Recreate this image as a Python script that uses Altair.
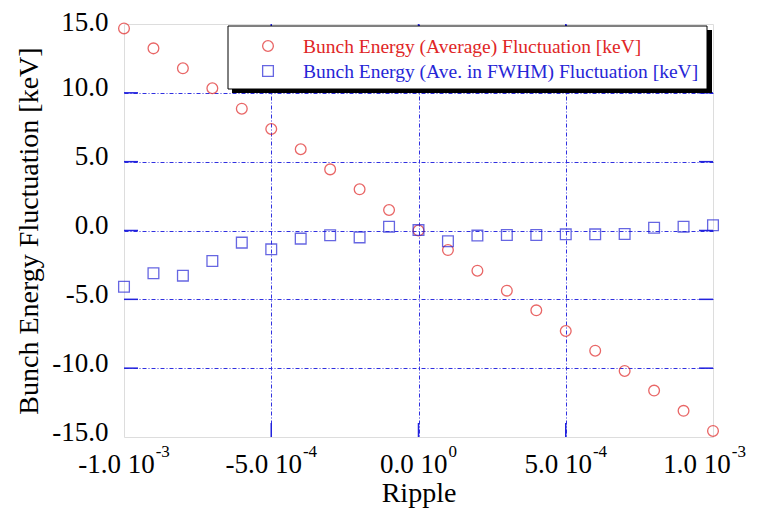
import altair as alt
import pandas as pd

# ---------------- data ----------------
ripple = [-1.0e-3, -0.9e-3, -0.8e-3, -0.7e-3, -0.6e-3, -0.5e-3, -0.4e-3, -0.3e-3,
          -0.2e-3, -0.1e-3, 0.0, 0.1e-3, 0.2e-3, 0.3e-3, 0.4e-3, 0.5e-3, 0.6e-3,
          0.7e-3, 0.8e-3, 0.9e-3, 1.0e-3]
avg_keV = [14.68, 13.23, 11.78, 10.33, 8.85, 7.37, 5.90, 4.44, 2.99, 1.49, 0.0,
           -1.42, -2.92, -4.37, -5.80, -7.30, -8.73, -10.20, -11.63, -13.10, -14.56]
fwhm_keV = [-4.08, -3.11, -3.28, -2.21, -0.88, -1.37, -0.59, -0.35, -0.50, 0.28, 0.03,
            -0.78, -0.37, -0.33, -0.33, -0.28, -0.28, -0.25, 0.20, 0.28, 0.38]
series_names = ["Bunch Energy (Average) Fluctuation [keV]",
                "Bunch Energy (Ave. in FWHM) Fluctuation [keV]"]
series_colors = ["#e02626", "#2626d6"]
series_shapes = ["circle", "square"]

x_ticks = [-1.0e-3, -5.0e-4, 0.0, 5.0e-4, 1.0e-3]
x_tick_base = ["-1.0 10", "-5.0 10", "0.0 10", "5.0 10", "1.0 10"]
x_tick_exp = ["-3", "-4", "0", "-4", "-3"]
y_ticks = [-15, -10, -5, 0, 5, 10, 15]

x_title = "Ripple"
y_title = "Bunch Energy Fluctuation [keV]"

# ---------------- layout ----------------
W, H = 589, 413
PAD_L, PAD_R = 116, 36
FONT = "'Liberation Serif', 'Times New Roman', 'DejaVu Serif', serif"
FRAME = "#2222dd"
GRID = "#3030e0"
TICK_LEN = 14
LBL_SIZE, SUP_SIZE = 27, 17

df = pd.DataFrame({
    "ripple": ripple * 2,
    "value": avg_keV + fwhm_keV,
    "series": [series_names[0]] * len(ripple) + [series_names[1]] * len(ripple),
})

x_scale = alt.Scale(domain=[x_ticks[0], x_ticks[-1]], nice=False, zero=False)
y_scale = alt.Scale(domain=[y_ticks[0], y_ticks[-1]], nice=False, zero=False)

x_axis = alt.Axis(
    values=x_ticks, labels=False, title=x_title, ticks=False, domain=False,
    titleFont=FONT, titleFontSize=28, titleFontWeight="normal", titleColor="black",
    titlePadding=42,
    grid=True, gridColor=GRID, gridDash=[4, 2, 1, 2], gridWidth=1,
    gridOpacity={"condition": {"test": "abs(datum.value) > 0.00095", "value": 0}, "value": 1},
)
y_axis = alt.Axis(
    values=y_ticks, labelExpr="replace(format(datum.value, '.1f'), '\u2212', '-')",
    title=y_title, ticks=False, domain=False,
    labelFont=FONT, labelFontSize=LBL_SIZE, labelColor="black", labelPadding=16,
    labelOffset={"condition": {"test": "datum.value > 14", "value": -2}, "value": -5},
    labelFlush=False, labelOverlap=False,
    titleFont=FONT, titleFontSize=28, titleFontWeight="normal", titleColor="black",
    titlePadding=8,
    grid=True, gridColor=GRID, gridDash=[4, 2, 1, 2], gridWidth=1,
    gridOpacity={"condition": {"test": "abs(datum.value) > 14.5", "value": 0}, "value": 1},
)

points = alt.Chart(df).mark_point(filled=False, size=115, strokeWidth=1.3).encode(
    x=alt.X("ripple:Q", scale=x_scale, axis=x_axis),
    y=alt.Y("value:Q", scale=y_scale, axis=y_axis),
    color=alt.Color("series:N", scale=alt.Scale(domain=series_names, range=series_colors), legend=None),
    shape=alt.Shape("series:N", scale=alt.Scale(domain=series_names, range=series_shapes), legend=None),
)

xt = pd.DataFrame({"t": x_ticks[1:-1]})
yt = pd.DataFrame({"t": y_ticks[1:-1]})
tick_style = dict(color=FRAME, strokeWidth=1.5)
ticks_bottom = alt.Chart(xt).mark_rule(**tick_style).encode(
    x=alt.X("t:Q", scale=x_scale), y=alt.value(H), y2=alt.value(H - TICK_LEN))
ticks_top = alt.Chart(xt).mark_rule(**tick_style).encode(
    x=alt.X("t:Q", scale=x_scale), y=alt.value(0), y2=alt.value(TICK_LEN))
ticks_left = alt.Chart(yt).mark_rule(**tick_style).encode(
    y=alt.Y("t:Q", scale=y_scale), x=alt.value(0), x2=alt.value(TICK_LEN))
ticks_right = alt.Chart(yt).mark_rule(**tick_style).encode(
    y=alt.Y("t:Q", scale=y_scale), x=alt.value(W), x2=alt.value(W - TICK_LEN))


# x tick labels with real superscripts (Times metrics for centring)
def text_w(s, size):
    em = {"-": 0.333, ".": 0.25, " ": 0.25}
    return sum(em.get(c, 0.5) for c in s) * size


x_label_layers = []
right_limit = W + PAD_R - 1
for t, base, ex in zip(x_ticks, x_tick_base, x_tick_exp):
    bw, sw = text_w(base, LBL_SIZE), text_w(ex, SUP_SIZE)
    half = (bw + sw + 1) / 2
    px = (t - x_ticks[0]) / (x_ticks[-1] - x_ticks[0]) * W
    shift = min(0.0, right_limit - (px + half + 2))
    d = pd.DataFrame({"t": [t], "b": [base], "e": [ex]})
    x_label_layers.append(
        alt.Chart(d).mark_text(font=FONT, fontSize=LBL_SIZE, color="black", align="left",
                               baseline="alphabetic", dx=-half + shift).encode(
            x=alt.X("t:Q", scale=x_scale), y=alt.value(H + 36), text="b:N"))
    x_label_layers.append(
        alt.Chart(d).mark_text(font=FONT, fontSize=SUP_SIZE, color="black", align="left",
                               baseline="alphabetic", dx=-half + bw + 1 + shift).encode(
            x=alt.X("t:Q", scale=x_scale), y=alt.value(H + 20), text="e:N"))

one = pd.DataFrame({"k": [0]})
shadow = alt.Chart(one).mark_rect(color="black").encode(
    x=alt.value(108), x2=alt.value(588), y=alt.value(6), y2=alt.value(69))
box = alt.Chart(one).mark_rect(fill="white", stroke="black", strokeWidth=1).encode(
    x=alt.value(104), x2=alt.value(583), y=alt.value(2), y2=alt.value(65))

leg_layers = []
for i, (name, col, shp) in enumerate(zip(series_names, series_colors, series_shapes)):
    yy = 22 + i * 25
    leg_layers.append(
        alt.Chart(one).mark_point(filled=False, size=115, strokeWidth=1.3, color=col, shape=shp).encode(
            x=alt.value(144), y=alt.value(yy)))
    leg_layers.append(
        alt.Chart(one).mark_text(text=name, font=FONT, fontSize=19.5, color=col,
                                 align="left", baseline="middle").encode(
            x=alt.value(179), y=alt.value(yy + 1)))

chart = alt.layer(
    points, ticks_bottom, ticks_top, ticks_left, ticks_right, *x_label_layers,
    shadow, box, *leg_layers
).properties(
    width=W, height=H,
    autosize=alt.AutoSizeParams(type="none"),
    padding={"left": PAD_L, "top": 16, "right": PAD_R, "bottom": 74},
).configure_view(
    stroke=FRAME, strokeWidth=1.5
).configure(background="white")

chart.save("out.html", embed_options={"renderer": "svg", "actions": False})
